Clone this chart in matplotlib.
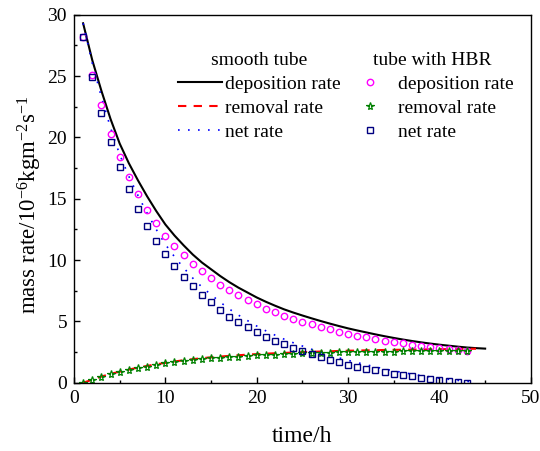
import matplotlib
matplotlib.use('Agg')
import matplotlib.pyplot as plt
from matplotlib.ticker import MultipleLocator

plt.rcParams['font.family'] = ['Liberation Serif', 'DejaVu Serif']
plt.rcParams['mathtext.fontset'] = 'custom'
plt.rcParams['mathtext.rm'] = 'Liberation Serif'
plt.rcParams['mathtext.it'] = 'Liberation Serif:italic'

# smooth tube (lines)
t_dep = list(range(1, 46))
dep_smooth = [29.3, 26.3, 23.8, 21.5, 19.5, 17.9, 16.5, 15.2, 14.0, 12.9,
              12.0, 11.2, 10.45, 9.8, 9.25, 8.7, 8.2, 7.75, 7.35, 6.95,
              6.6, 6.28, 5.98, 5.72, 5.48, 5.25, 5.03, 4.82, 4.62, 4.43,
              4.26, 4.1, 3.94, 3.79, 3.65, 3.52, 3.4, 3.29, 3.19, 3.1,
              3.02, 2.94, 2.87, 2.82, 2.78]
t_rem = list(range(1, 45))
rem_smooth = [0.0, 0.24, 0.5, 0.72, 0.9, 1.07, 1.23, 1.37, 1.5, 1.62,
              1.73, 1.83, 1.92, 2.0, 2.07, 2.13, 2.19, 2.24, 2.29, 2.33,
              2.37, 2.4, 2.43, 2.46, 2.49, 2.52, 2.54, 2.56, 2.59, 2.61,
              2.62, 2.64, 2.65, 2.67, 2.68, 2.69, 2.7, 2.71, 2.72, 2.73,
              2.74, 2.75, 2.76, 2.77]
net_smooth = [29.3, 26.06, 23.3, 20.78, 18.6, 16.83, 15.27, 13.83, 12.5, 11.28,
              10.27, 9.37, 8.53, 7.8, 7.18, 6.57, 6.01, 5.51, 5.06, 4.62,
              4.23, 3.88, 3.55, 3.26, 2.99, 2.73, 2.49, 2.26, 2.03, 1.82,
              1.64, 1.46, 1.29, 1.12, 0.97, 0.83, 0.7, 0.58, 0.47, 0.37,
              0.28, 0.19, 0.11, 0.05]

# tube with HBR (markers)
t_hbr = list(range(1, 44))
dep_hbr = [28.2, 25.1, 22.6, 20.3, 18.4, 16.8, 15.4, 14.1, 13.0, 12.0,
           11.15, 10.4, 9.7, 9.08, 8.5, 8.0, 7.55, 7.12, 6.77, 6.39,
           6.03, 5.74, 5.46, 5.22, 4.97, 4.76, 4.54, 4.35, 4.16, 3.99,
           3.83, 3.7, 3.56, 3.42, 3.32, 3.21, 3.1, 2.99, 2.91, 2.8,
           2.75, 2.67, 2.61]
rem_hbr = [0.0, 0.22, 0.49, 0.71, 0.88, 1.04, 1.22, 1.32, 1.47, 1.58,
           1.66, 1.74, 1.85, 1.93, 2.0, 2.04, 2.09, 2.12, 2.17, 2.22,
           2.25, 2.3, 2.33, 2.36, 2.39, 2.41, 2.43, 2.45, 2.47, 2.48,
           2.5, 2.51, 2.52, 2.53, 2.54, 2.55, 2.56, 2.57, 2.57, 2.58,
           2.58, 2.59, 2.59]
net_hbr = [28.2, 24.9, 22.0, 19.6, 17.55, 15.76, 14.15, 12.8, 11.55, 10.46,
           9.5, 8.64, 7.85, 7.15, 6.58, 5.93, 5.38, 4.95, 4.51, 4.1,
           3.75, 3.42, 3.13, 2.83, 2.56, 2.31, 2.07, 1.85, 1.66, 1.47,
           1.3, 1.14, 1.0, 0.87, 0.73, 0.63, 0.52, 0.41, 0.3, 0.2,
           0.11, 0.03, 0.0]

fig = plt.figure(figsize=(5.4, 4.51), dpi=100)
ax = fig.add_axes([0.137, 0.1514, 0.846, 0.816])

l1, = ax.plot(t_dep, dep_smooth, color='black', lw=1.5)
l2, = ax.plot(t_rem, rem_smooth, color='red', lw=1.5, dashes=(4, 3.5))
l3, = ax.plot(t_rem, net_smooth, color='blue', lw=1.2, dashes=(1, 5))

m1, = ax.plot(t_hbr, dep_hbr, 'o', ls='none', ms=4.6, mfc='none', mec='#FF00FF', mew=1.0)
m2, = ax.plot(t_hbr, rem_hbr, '*', ls='none', ms=5.8, mfc='none', mec='#008000', mew=0.9)
m3, = ax.plot(t_hbr, net_hbr, 's', ls='none', ms=3.8, mfc='none', mec='#000080', mew=1.0)

ax.set_xlim(0, 50)
ax.set_ylim(0, 30)
ax.xaxis.set_major_locator(MultipleLocator(10))
ax.xaxis.set_minor_locator(MultipleLocator(5))
ax.yaxis.set_major_locator(MultipleLocator(5))
ax.yaxis.set_minor_locator(MultipleLocator(2.5))
ax.tick_params(which='both', direction='in', top=False, right=False, labelsize=14)
ax.tick_params(which='major', length=4.5, width=1, pad=5)
ax.tick_params(which='minor', length=2.5, width=1)
for s in ax.spines.values():
    s.set_linewidth(1.0)

ax.set_xlabel('time/h', fontsize=17, labelpad=14)
ax.set_ylabel(r'mass rate/10$^{-6}$kgm$^{-2}$s$^{-1}$', fontsize=16.5)
ax.yaxis.set_label_coords(-0.066, 0.483)

lab = ['deposition rate', 'removal rate', 'net rate']
leg1 = ax.legend([l1, l2, l3], lab, title='smooth tube', loc='upper left',
                 bbox_to_anchor=(178 / 540, 1 - 52 / 451), bbox_transform=fig.transFigure,
                 frameon=False, fontsize=14, title_fontsize=14, handlelength=2.27,
                 handletextpad=0.15, labelspacing=0.33, borderpad=0, borderaxespad=0)
ax.add_artist(leg1)
ax.legend([m1, m2, m3], lab, title='tube with HBR', loc='upper left',
          bbox_to_anchor=(350.5 / 540, 1 - 52 / 451), bbox_transform=fig.transFigure,
          frameon=False, fontsize=14, title_fontsize=14, handlelength=2.0,
          handletextpad=0.44, labelspacing=0.33, borderpad=0, borderaxespad=0, numpoints=1)

fig.savefig('out.png', dpi=100)
